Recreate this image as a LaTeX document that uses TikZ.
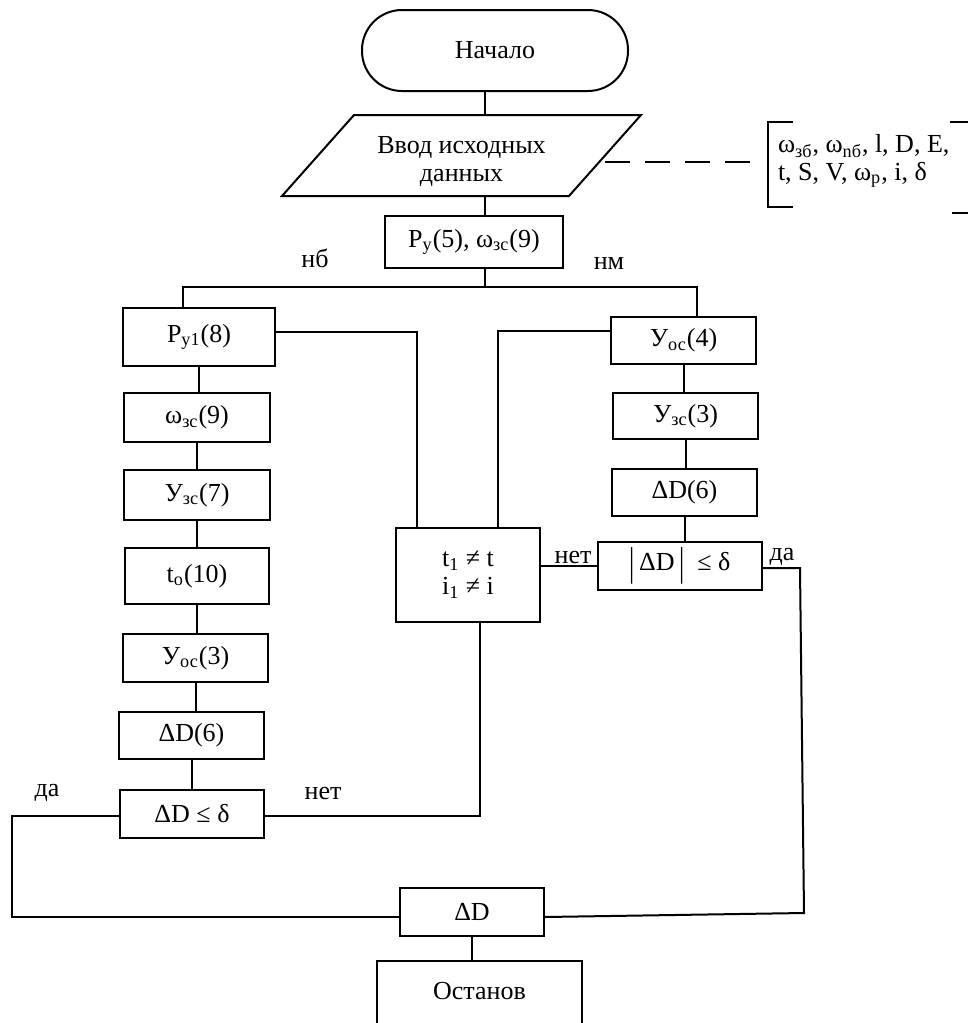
\documentclass[tikz,border=0pt]{standalone}
\usepackage{fontspec}
\usepackage{graphicx}
\setmainfont{Liberation Serif}
\usetikzlibrary{calc}
\newcommand{\sbs}[1]{\textsubscript{#1}}
\newcommand{\tbar}{\raisebox{-0.2em}{\scalebox{1}[1.55]{|}}}
\begin{document}
\begin{tikzpicture}[x=0.5pt,y=-0.5pt,line width=1pt,
  every node/.style={font=\fontsize{13}{14}\selectfont,inner sep=0pt},
  box/.style 2 args={draw,minimum width=#1*0.5pt,minimum height=#2*0.5pt},
  term/.style={draw,rounded corners=20pt,minimum width=133pt,minimum height=40.5pt},
  lbl/.style={},
  dashline/.style={dash pattern=on 12.5pt off 7.5pt}]
\useasboundingbox (0,0) rectangle (968,1023);
\clip (0,0) rectangle (968,1023);

% top
\node[term] (start) at (495,50.5) {Начало};
\node[minimum width=178.5pt,minimum height=39.5pt,align=center] (in) at (461.5,161) {Ввод исходных\\данных};
\draw ($(in.south west)+(0,-5.5)$) -- ($(in.north west)+(72,-5.5)$) -- ($(in.north east)+(0,-5.5)$) -- ($(in.south east)+(-72,-5.5)$) -- cycle;
\node[box={178}{52}] (py) at (474,242) {P\sbs{y}(5), ω\sbs{зс}(9)};

% annotation
\node[anchor=west,align=left] (note) at (777,161) {ω\sbs{зб}, ω\sbs{nб}, l, D, E,\\t, S, V, ω\sbs{p}, i, δ};
\draw (793,122) -- (768,122) -- (768,207) -- (793,207);
\draw (950,122) -- (975,122);
\draw (952,213) -- (975,213);
\coordinate (inR) at (605,162);
\coordinate (brL) at (752,162);
\draw[dashline] (inR) -- (brL);

\coordinate (trunk) at (485,0);
\coordinate (inTop) at (485,116);
\coordinate (inBot) at (485,195);
\draw (start.south -| trunk) -- (inTop);
\draw (inBot) -- (py.north -| trunk);

% left column
\node[box={152}{58}] (py1) at (199,337) {P\sbs{y1}(8)};
\node[box={146}{49}] (w9) at (197,417.5) {ω\sbs{зс}(9)};
\node[box={146}{50}] (y7) at (197,495) {У\sbs{зс}(7)};
\node[box={144}{56}] (t10) at (197,576) {t\sbs{o}(10)};
\node[box={145}{48}] (yoc3) at (195.5,658) {У\sbs{ос}(3)};
\node[box={145}{47}] (dDL) at (191.5,735.5) {ΔD(6)};
\node[box={144}{48}] (cmpL) at (192,814) {ΔD ≤ δ};

% right column
\node[box={145}{47}] (yoc4) at (683.5,340.5) {У\sbs{ос}(4)};
\node[box={145}{46}] (yzc3) at (685.5,416) {У\sbs{зс}(3)};
\node[box={145}{47}] (dDR) at (684.5,492.5) {ΔD(6)};
\node[box={164}{48}] (cmpR) at (680,566) {\tbar\,ΔD\,\tbar\ \ ≤ δ};

% middle
\node[box={144}{94},align=center] (tt) at (468,575) {t\sbs{1} ≠ t\\i\sbs{1} ≠ i};
\node[box={144}{48}] (dD) at (472,912) {ΔD};
\node[draw,anchor=north,minimum width=102.5pt,text height=19pt,text depth=26pt] (stop) at (479.5,960) {Останов};

% labels
\node[lbl] (nb) at (315,258) {нб};
\node[lbl] (nm) at (609,264) {нм};
\node[lbl] (netR) at (573,557) {нет};
\node[lbl] (daR) at (782,557) {да};
\node[lbl] (daL) at (47,793) {да};
\node[lbl] (netL) at (323,793) {нет};

% branch
\coordinate (bl) at (183,287);
\coordinate (br) at (697,287);
\draw (py.south -| trunk) -- (trunk |- bl);
\draw (py1.north -| bl) -- (bl) -- (br) -- (yoc4.north -| br);

% left chain
\draw (py1.south) -- (py1.south |- w9.north);
\draw (w9.south) -- (w9.south |- y7.north);
\draw (y7.south) -- (y7.south |- t10.north);
\draw (t10.south) -- (t10.south |- yoc3.north);
\draw (yoc3.south) -- (yoc3.south |- dDL.north);
\draw (dDL.south) -- (dDL.south |- cmpL.north);

% right chain
\draw (yoc4.south) -- (yoc4.south |- yzc3.north);
\draw (yzc3.south) -- (yzc3.south |- dDR.north);
\draw (dDR.south) -- (dDR.south |- cmpR.north);

% loops into tt
\coordinate (c1) at (417,332);
\draw (py1.east |- c1) -- (c1) -- (c1 |- tt.north);
\coordinate (c2) at (498,331);
\draw (yoc4.west |- c2) -- (c2) -- (c2 |- tt.north);
\draw (cmpR.west) -- (cmpR.west -| tt.east);
\coordinate (c3) at (480,816);
\draw (cmpL.east |- c3) -- (c3) -- (c3 |- tt.south);

% exits to dD
\coordinate (dl) at (12,917);
\coordinate (dlt) at (12,816);
\draw (cmpL.west |- dlt) -- (dlt) -- (dl) -- (dl -| dD.west);
\coordinate (r1) at (800,568);
\coordinate (r2) at (804,913);
\draw (cmpR.east |- r1) -- (r1) -- (r2) -- (dD.east |- dl);
\draw (dD.south) -- (dD.south |- stop.north);
\end{tikzpicture}
\end{document}
